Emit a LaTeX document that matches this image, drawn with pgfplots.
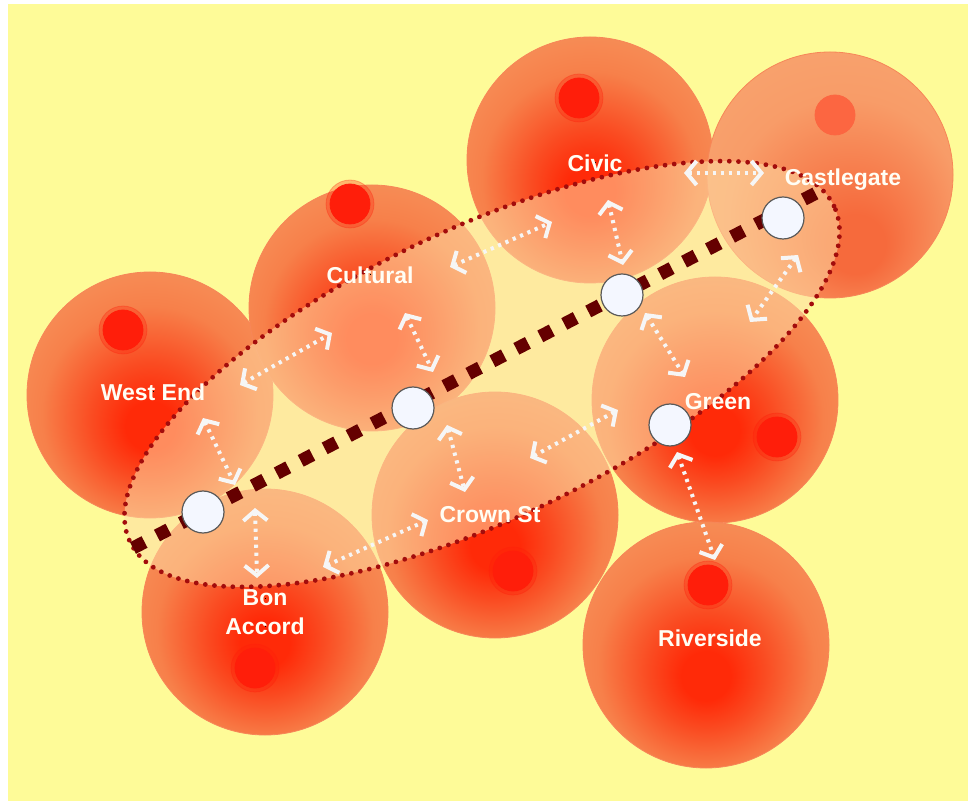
\documentclass[border=0pt]{standalone}
\usepackage{pgfplots}
\pgfplotsset{compat=1.18}
\usepackage{pgfplotstable}
\usepackage{fontspec}
\setmainfont{Liberation Sans}
\usetikzlibrary{shapes.geometric,arrows.meta}

\definecolor{bg}{HTML}{FEFB98}
\definecolor{hotred}{HTML}{FF2A08}
\definecolor{warmred}{HTML}{FA4C22}
\definecolor{midorange}{HTML}{F7804A}
\definecolor{outerorange}{HTML}{F6935C}
\definecolor{edgeorange}{HTML}{F69E68}
\definecolor{palered}{HTML}{F66A3C}
\definecolor{paleorange}{HTML}{F89C68}
\definecolor{paleedge}{HTML}{F9AE78}
\definecolor{dotred}{HTML}{FF1E0A}
\definecolor{routecol}{HTML}{650000}
\definecolor{ringcol}{HTML}{A30C0C}
\definecolor{haze}{HTML}{FFDDA5}
\definecolor{stopfill}{HTML}{F4F7FF}

% radial fills of the zones (inner circle centre a little below the middle)
\pgfdeclareradialshading{zone}{\pgfpoint{0bp}{-7bp}}{color(0bp)=(hotred); color(5bp)=(hotred); color(12bp)=(warmred); color(22bp)=(midorange); color(32bp)=(outerorange); color(50bp)=(edgeorange)}
\pgfdeclareradialshading{zonepale}{\pgfpoint{6bp}{-16bp}}{color(0bp)=(palered); color(6bp)=(palered); color(24bp)=(paleorange); color(50bp)=(paleedge)}

% zone centres, in pixels of the original picture (y grows downwards)
\pgfplotstableread{
x y
150 395
372 308
590 160
}\zonesA
\pgfplotstableread{
x y
715 400
495 515
265 612
706 645
}\zonesB
\pgfplotstableread{
x y
123 330
350 204
579 98
777 437
513 571
255 668
708 585
}\hotspots
% links: start point and offset
\pgfplotstableread{
x y u v
240 385 92 -52
203 418 32 67
255 508 2 70
323 567 105 -47
447 425 18 67
405 313 28 59
450 267 102 -45
608 200 15 65
684 173 80 0
798 255 -48 67
645 313 40 64
530 458 88 -48
677 452 38 108
}\links
\pgfplotstableread{
x y
203 512
413 408
622 295
783 218
670 425
}\stops

\begin{document}
\begin{tikzpicture}
\begin{axis}[
    scale only axis,
    width=484pt, height=400.5pt,
    xmin=0, xmax=968, ymin=0, ymax=801,
    y dir=reverse,
    axis lines=none,
    clip=false,
    clip marker paths=true,
    hidden/.style={only marks, mark=*, mark size=0pt, mark options={draw=none, fill=none, line width=0pt}},
    zone/.style={hidden, nodes near coords={},
        every node near coord/.style={circle, anchor=center, inner sep=0pt,
            minimum size=123pt, shading=#1, draw=edgeorange!85!red, line width=0.4pt}},
]
% page and background
\addplot[fill=white, draw=none] coordinates {(0,0) (968,0) (968,801) (0,801)} -- cycle;
\addplot[fill=bg, draw=none] coordinates {(8,4) (968,4) (968,801) (8,801)} -- cycle;

% zones
\addplot[zone=zone] table {\zonesA};
\addplot[zone=zonepale] coordinates {(830,175)};
\addplot[zone=zone] table {\zonesB};
\addplot[dotred, opacity=0.3, only marks, mark=*, mark size=12pt] table {\hotspots};
\addplot[dotred, only marks, mark=*, mark size=10pt] table {\hotspots};
\addplot[dotred!50!paleedge, only marks, mark=*, mark size=10pt] coordinates {(835,115)};

% core area
\addplot[hidden, nodes near coords={},
    every node near coord/.style={ellipse, anchor=center, inner sep=0pt,
        minimum width=390pt, minimum height=145pt, rotate=25.5,
        fill=haze, fill opacity=0.55, draw=ringcol, line width=2.4pt,
        line cap=round, dash pattern=on 0pt off 4.6pt}]
    coordinates {(482,374)};

% route
\addplot[routecol, line width=6.5pt, dash pattern=on 6.5pt off 7pt] coordinates {(133,548) (822,190)};

% links
\addplot[white!93!gray, line width=2pt, dash pattern=on 1.6pt off 2.4pt,
    {Straight Barb[length=5pt,width=12pt,line width=2pt]}-{Straight Barb[length=5pt,width=12pt,line width=2pt]},
    quiver={u=\thisrow{u}, v=\thisrow{v}}] table {\links};

% stops
\addplot[only marks, mark=*, mark size=10.5pt, mark options={fill=stopfill, draw=black!65, line width=0.6pt}] table {\stops};

% labels
\addplot[hidden, point meta=explicit symbolic, nodes near coords,
    every node near coord/.style={anchor=center, inner sep=0pt, text=white!96!yellow,
        font=\bfseries\fontsize{11.5}{12}\selectfont}]
    coordinates {(153,392) [West End] (370,275) [Cultural] (595,163) [Civic]
        (843,180) [Castlegate] (718,402) [Green] (490,515) [Crown St]
        (265,598) [Bon] (265,626) [Accord] (710,638) [Riverside]};
\end{axis}
\end{tikzpicture}
\end{document}
